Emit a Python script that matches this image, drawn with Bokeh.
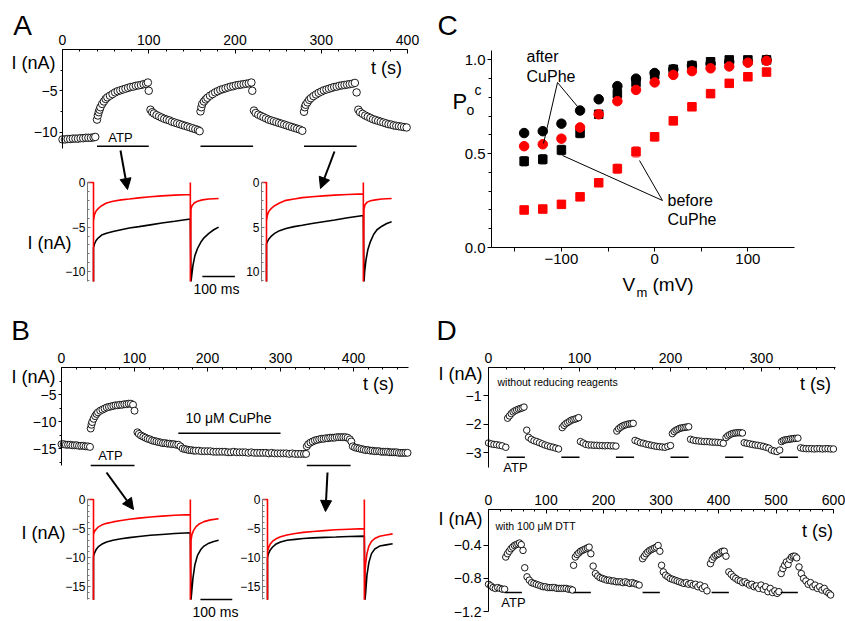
from bokeh.plotting import figure
from bokeh.models import Range1d, Label, Arrow, NormalHead, FixedTicker
from bokeh.layouts import row, column
from bokeh.embed import file_html
from bokeh.resources import INLINE

FONT = "Liberation Sans"

# ======================= DATA =======================
# ---- Panel A, time course (t in s, I in nA) ----
A_t = [0, 3, 6, 9, 12, 15, 18, 21, 24, 27, 30, 33, 36, 38,
       40, 41, 42, 43, 44, 46, 48, 50, 52, 55, 58, 61, 64, 67, 70, 73, 76, 79, 82, 85, 88, 91, 94, 97, 99, 100,
       102, 104, 106, 109, 112, 115, 118, 121, 124, 127, 130, 133, 136, 139, 142, 145, 148, 151, 154, 157, 159,
       160, 161, 162, 164, 166, 168, 171, 174, 177, 180, 183, 186, 189, 192, 195, 198, 201, 204, 207, 210, 213, 216, 219, 220,
       222, 224, 227, 230, 233, 236, 239, 242, 245, 248, 251, 254, 257, 260, 263, 266, 269, 272, 275, 278,
       280, 281, 282, 284, 286, 288, 291, 294, 297, 300, 303, 306, 309, 312, 315, 318, 321, 324, 327, 330, 333, 336, 339, 341,
       343, 345, 348, 351, 354, 357, 360, 363, 366, 369, 372, 375, 378, 381, 384, 387, 390, 393, 396, 399]
A_i = [-10.9, -10.9, -10.85, -10.85, -10.8, -10.8, -10.8, -10.75, -10.75, -10.7, -10.7, -10.7, -10.65, -10.6,
       -8.5, -8.0, -7.6, -7.3, -7.0, -6.6, -6.3, -6.0, -5.8, -5.6, -5.4, -5.2, -5.05, -4.95, -4.85, -4.75, -4.65, -4.55, -4.5, -4.4, -4.35, -4.3, -4.2, -4.15, -4.0, -5.0,
       -7.3, -7.6, -7.75, -7.95, -8.1, -8.25, -8.4, -8.5, -8.6, -8.75, -8.85, -8.95, -9.05, -9.15, -9.25, -9.35, -9.45, -9.55, -9.65, -9.75, -9.9,
       -7.5, -7.0, -6.6, -6.3, -6.05, -5.85, -5.6, -5.4, -5.2, -5.05, -4.9, -4.8, -4.7, -4.6, -4.5, -4.45, -4.35, -4.3, -4.25, -4.2, -4.15, -4.1, -4.0, -5.0,
       -7.4, -7.7, -7.9, -8.05, -8.2, -8.35, -8.5, -8.6, -8.7, -8.8, -8.9, -9.0, -9.1, -9.2, -9.3, -9.4, -9.5, -9.6, -9.7, -9.85,
       -7.55, -7.0, -6.7, -6.4, -6.1, -5.9, -5.65, -5.45, -5.25, -5.1, -4.95, -4.85, -4.75, -4.65, -4.55, -4.5, -4.4, -4.35, -4.3, -4.25, -4.2, -4.15, -4.05, -5.2,
       -7.3, -7.6, -7.8, -8.0, -8.15, -8.3, -8.45, -8.55, -8.65, -8.75, -8.85, -8.95, -9.05, -9.1, -9.2, -9.25, -9.3, -9.35, -9.4, -9.45]
A_atp_start = [40, 160, 280]
A_atp_end = [100, 221, 341]

# ---- Panel A, current traces (t in ms, I in nA; -11.1 = off-scale transient) ----
AL_red_t = [-18, 0, 0, 0, 3, 8, 15, 25, 40, 60, 85, 110, 140, 175, 210, 250, 298, 298, 298, 300, 303, 310, 320, 335, 355, 385]
AL_red_i = [0, 0, -11.1, -4.3, -3.6, -3.2, -2.9, -2.6, -2.3, -2.1, -1.95, -1.85, -1.72, -1.6, -1.5, -1.42, -1.35, 0, -11.1, -3.0, -2.6, -2.3, -2.1, -1.95, -1.85, -1.8]
AL_blk_t = [0, 0, 3, 8, 15, 25, 40, 60, 85, 110, 140, 175, 210, 250, 298, 300, 302, 306, 312, 320, 330, 340, 355, 370, 385]
AL_blk_i = [-11.1, -7.3, -6.9, -6.5, -6.2, -5.9, -5.7, -5.5, -5.3, -5.1, -4.95, -4.75, -4.55, -4.35, -4.1, -11.1, -10.5, -9.3, -8.2, -7.4, -6.7, -6.2, -5.7, -5.3, -5.0]
AR_red_t = [-15, 0, 0, 0, 3, 8, 15, 25, 40, 60, 85, 110, 140, 175, 210, 250, 298, 298, 298, 300, 303, 310, 320, 335, 355, 385]
AR_red_i = [0, 0, -11.1, -4.3, -3.6, -3.2, -2.9, -2.6, -2.3, -2.0, -1.85, -1.7, -1.6, -1.5, -1.42, -1.35, -1.28, 0, -11.1, -3.0, -2.5, -2.2, -2.05, -1.95, -1.85, -1.8]
AR_blk_t = [0, 0, 3, 8, 15, 25, 40, 60, 85, 110, 140, 175, 210, 250, 298, 300, 302, 306, 312, 320, 330, 340, 355, 370, 385]
AR_blk_i = [-11.1, -6.9, -6.6, -6.3, -6.0, -5.7, -5.4, -5.15, -4.95, -4.8, -4.6, -4.4, -4.2, -3.95, -3.7, -11.1, -10.0, -8.7, -7.5, -6.6, -5.8, -5.3, -4.9, -4.6, -4.4]

# ---- Panel B, time course ----
B_t = [0, 3, 6, 9, 12, 15, 18, 21, 24, 27, 30, 33, 36, 39,
       40, 41, 42, 44, 46, 48, 50, 53, 56, 59, 62, 65, 68, 71, 74, 77, 80, 83, 86, 89, 92, 95, 98, 100,
       104, 106, 109, 112, 115, 118, 121, 124, 127, 130, 133, 136, 139, 142, 145, 148, 151, 154, 157, 160,
       163, 166, 169, 172, 175, 178, 181, 184, 188, 192, 196, 200, 204, 208, 212, 216, 220, 224, 228, 232,
       236, 240, 244, 248, 252, 256, 260, 264, 268, 272, 276, 280, 284, 288, 292, 296, 300, 304, 308, 312,
       316, 320, 324, 328, 332, 335,
       336, 338, 341, 344, 347, 350, 353, 356, 359, 362, 365, 368, 371, 374, 377, 380, 383, 386, 389, 392, 395, 397,
       399, 402, 405, 408, 411, 414, 417, 420, 423, 426, 429, 432, 435, 438, 441, 444, 447, 450, 453, 456, 459, 462, 465, 468, 471, 474]
B_i = [-14.2, -14.2, -14.3, -14.3, -14.3, -14.4, -14.4, -14.4, -14.5, -14.5, -14.5, -14.6, -14.6, -14.7,
       -11.3, -10.6, -10.1, -9.5, -9.0, -8.6, -8.3, -8.0, -7.8, -7.6, -7.4, -7.3, -7.2, -7.1, -7.0, -7.0, -6.9, -6.9, -6.8, -6.8, -6.7, -6.7, -6.9, -8.0,
       -12.0, -12.3, -12.6, -12.8, -13.0, -13.2, -13.3, -13.5, -13.6, -13.7, -13.8, -13.9, -14.0, -14.0, -14.1, -14.1, -14.2, -14.2, -14.3, -14.3,
       -14.6, -15.0, -15.1, -15.2, -15.3, -15.3, -15.4, -15.4, -15.4, -15.5, -15.5, -15.5, -15.5, -15.6, -15.6, -15.6, -15.6, -15.6, -15.7, -15.7,
       -15.6, -15.7, -15.7, -15.7, -15.7, -15.8, -15.7, -15.8, -15.8, -15.8, -15.8, -15.8, -15.9, -15.8, -15.9, -15.9, -15.9, -15.9, -15.9, -16.0,
       -15.9, -16.0, -16.0, -16.0, -16.0, -16.0,
       -14.6, -14.2, -13.9, -13.7, -13.5, -13.4, -13.3, -13.2, -13.2, -13.1, -13.1, -13.0, -13.0, -13.0, -12.9, -12.9, -12.9, -12.9, -12.9, -13.0, -13.3, -13.7,
       -14.6, -14.8, -14.9, -15.0, -15.1, -15.2, -15.3, -15.3, -15.4, -15.4, -15.5, -15.5, -15.5, -15.6, -15.6, -15.6, -15.6, -15.7, -15.7, -15.7, -15.7, -15.8, -15.8, -15.8, -15.8, -15.8]
B_atp_start = [40, 336]
B_atp_end = [100, 396]
B_cuphe = [160, 300]

# ---- Panel B, current traces (-17.2 = off-scale transient) ----
BL_red_t = [-18, 0, 0, 0, 3, 8, 15, 25, 40, 60, 85, 110, 140, 175, 210, 250, 298, 298, 298, 300, 303, 308, 315, 325, 340, 360, 385]
BL_red_i = [0, 0, -17.2, -6.0, -5.5, -5.1, -4.7, -4.4, -4.1, -3.85, -3.6, -3.4, -3.2, -3.0, -2.85, -2.7, -2.6, 0, -17.2, -7.0, -6.0, -5.3, -4.7, -4.2, -3.8, -3.5, -3.3]
BL_blk_t = [0, 0, 3, 8, 15, 25, 40, 60, 85, 110, 140, 175, 210, 250, 298, 300, 302, 306, 312, 320, 330, 340, 355, 370, 385]
BL_blk_i = [-17.2, -9.8, -9.2, -8.6, -8.1, -7.7, -7.3, -7.0, -6.75, -6.55, -6.35, -6.15, -6.0, -5.85, -5.7, -17.2, -16.0, -13.5, -11.2, -9.6, -8.6, -8.0, -7.5, -7.2, -7.0]
BR_red_t = [-15, 0, 0, 0, 3, 8, 15, 25, 40, 60, 85, 110, 140, 175, 210, 250, 298, 298, 298, 300, 302, 306, 312, 320, 330, 345, 365, 385]
BR_red_i = [0, 0, -17.2, -9.0, -8.3, -7.7, -7.2, -6.8, -6.4, -6.1, -5.85, -5.65, -5.5, -5.35, -5.2, -5.1, -5.0, 0, -17.2, -12.5, -11.0, -9.3, -8.0, -7.2, -6.7, -6.3, -6.1, -5.9]
BR_blk_t = [0, 0, 3, 8, 15, 25, 40, 60, 85, 110, 140, 175, 210, 250, 298, 300, 302, 306, 312, 320, 330, 345, 365, 385]
BR_blk_i = [-17.2, -10.0, -9.3, -8.7, -8.2, -7.7, -7.3, -7.0, -6.85, -6.7, -6.6, -6.5, -6.45, -6.35, -6.3, -17.2, -16.0, -13.0, -10.8, -9.3, -8.5, -8.0, -7.8, -7.6]

# ---- Panel C, Po vs Vm ----
C_v = [-140, -120, -100, -80, -60, -40, -20, 0, 20, 40, 60, 80, 100, 120]
blk_after = [0.61, 0.62, 0.66, 0.73, 0.79, 0.86, 0.90, 0.93, 0.95, 0.97, 0.98, 0.99, 0.99, 1.0]
blk_after_err = [0.01, 0.01, 0.01, 0.01, 0.01, 0.01, 0.01, 0.008, 0.006, 0.005, 0.005, 0.005, 0.005, 0.005]
blk_before = [0.46, 0.47, 0.52, 0.61, 0.71, 0.82, 0.88, 0.92, 0.95, 0.97, 0.99, 1.0, 1.0, 1.0]
blk_before_err = [0.025, 0.025, 0.025, 0.025, 0.015, 0.015, 0.01, 0.01, 0.01, 0.01, 0.01, 0.008, 0.005, 0.005]
red_after = [0.54, 0.55, 0.58, 0.64, 0.71, 0.78, 0.84, 0.88, 0.92, 0.94, 0.955, 0.965, 0.985, 0.995]
red_after_err = [0.01, 0.01, 0.012, 0.015, 0.015, 0.015, 0.01, 0.01, 0.01, 0.008, 0.008, 0.008, 0.006, 0.006]
red_before = [0.20, 0.205, 0.23, 0.27, 0.345, 0.42, 0.51, 0.59, 0.675, 0.75, 0.82, 0.875, 0.91, 0.935]
red_before_err = [0.01, 0.01, 0.012, 0.015, 0.015, 0.025, 0.028, 0.022, 0.02, 0.018, 0.015, 0.012, 0.01, 0.01]

# ---- Panel D, time courses ----
D1_t = [0, 3, 6, 9, 12, 15, 19,
        21, 23, 25, 27, 29, 31, 33, 35, 37, 39,
        42, 44, 47, 50, 53, 56, 59, 62, 65, 68, 71, 74, 77,
        81, 83, 85, 87, 89, 91, 93, 95, 97, 99,
        101, 104, 107, 110, 113, 116, 119, 122, 125, 128, 131, 134, 137, 140,
        141, 143, 145, 147, 149, 151, 153, 155, 157, 159,
        161, 164, 167, 170, 173, 176, 179, 182, 185, 188, 191, 194, 197, 200,
        202, 204, 206, 208, 210, 212, 214, 216, 218, 220,
        222, 225, 228, 231, 234, 237, 240, 243, 246, 249, 252, 255, 258,
        261, 263, 265, 267, 269, 271, 273, 275, 277, 279,
        281, 284, 287, 290, 293, 296, 299, 302, 305, 308, 311, 314, 317, 320,
        322, 324, 326, 328, 330, 332, 334, 336, 338, 340,
        343, 346, 349, 352, 355, 358, 361, 364, 367, 370, 373, 376, 379]
D1_i = [-2.65, -2.68, -2.7, -2.71, -2.73, -2.75, -2.8,
        -1.78, -1.7, -1.62, -1.56, -1.52, -1.49, -1.46, -1.44, -1.42, -1.39,
        -2.2, -2.45, -2.52, -2.57, -2.6, -2.64, -2.68, -2.72, -2.75, -2.78, -2.8, -2.83, -2.86,
        -2.11, -2.03, -1.97, -1.93, -1.89, -1.85, -1.83, -1.81, -1.79, -1.76,
        -2.6, -2.65, -2.7, -2.72, -2.72, -2.73, -2.73, -2.74, -2.74, -2.75, -2.74, -2.75, -2.75, -2.76,
        -2.23, -2.15, -2.1, -2.06, -2.03, -2.01, -1.99, -1.98, -1.97, -1.96,
        -2.56, -2.6, -2.64, -2.66, -2.69, -2.71, -2.73, -2.75, -2.77, -2.78, -2.79, -2.8, -2.77, -2.74,
        -2.32, -2.25, -2.2, -2.17, -2.14, -2.12, -2.11, -2.1, -2.09, -2.08,
        -2.52, -2.55, -2.57, -2.58, -2.59, -2.6, -2.6, -2.61, -2.62, -2.62, -2.63, -2.64, -2.66,
        -2.46, -2.4, -2.36, -2.33, -2.31, -2.3, -2.29, -2.29, -2.29, -2.3,
        -2.64, -2.66, -2.68, -2.7, -2.72, -2.73, -2.75, -2.77, -2.8, -2.83, -2.9, -2.93, -2.95, -2.9,
        -2.6, -2.56, -2.54, -2.53, -2.52, -2.51, -2.5, -2.49, -2.49, -2.48,
        -2.82, -2.84, -2.85, -2.85, -2.85, -2.86, -2.85, -2.85, -2.86, -2.85, -2.85, -2.86, -2.86]
D1_atp_start = [20, 80, 140, 200, 260, 320]
D1_atp_end = [40, 100, 160, 220, 280, 340]

D2_t = [0, 4, 8, 12, 16, 20, 24, 28,
        30, 33, 36, 39, 42, 45, 48, 51, 54, 57, 60,
        63, 67, 71, 75, 79, 83, 87, 91, 95, 99, 103, 107, 111, 115, 119, 123, 127, 131, 135, 139, 143, 146,
        148, 151, 154, 157, 160, 163, 166, 169, 172, 175, 178,
        182, 186, 190, 194, 198, 202, 206, 210, 214, 218, 222, 226, 230, 234, 238, 242, 246, 250, 254, 258, 262,
        268, 271, 274, 277, 280, 283, 286, 289, 292, 295, 298,
        301, 304, 308, 312, 316, 320, 324, 328, 332, 336, 340, 344, 348, 352, 356, 360, 364, 368, 372, 376, 380,
        386, 389, 392, 395, 398, 401, 404, 407, 410, 413,
        418, 422, 426, 430, 434, 438, 442, 446, 450, 454, 458, 462, 466, 470, 474, 478, 482, 486, 490, 494, 498, 502, 505,
        509, 512, 515, 518, 521, 524, 527, 530, 533, 536,
        540, 544, 548, 552, 556, 560, 564, 568, 572, 576, 580, 584, 588, 592, 595]
D2_i = [-0.87, -0.89, -0.91, -0.92, -0.91, -0.92, -0.93, -0.93,
        -0.54, -0.5, -0.47, -0.44, -0.42, -0.4, -0.39, -0.38, -0.37, -0.39, -0.46,
        -0.67, -0.78, -0.82, -0.85, -0.86, -0.87, -0.88, -0.89, -0.9, -0.9, -0.91, -0.91, -0.91, -0.91, -0.92, -0.92, -0.92, -0.92, -0.92, -0.93, -0.93, -0.94,
        -0.64, -0.54, -0.51, -0.49, -0.47, -0.46, -0.45, -0.44, -0.43, -0.42, -0.5,
        -0.65, -0.74, -0.77, -0.79, -0.8, -0.81, -0.82, -0.82, -0.83, -0.83, -0.84, -0.84, -0.84, -0.85, -0.84, -0.85, -0.86, -0.85, -0.86, -0.87, -0.88,
        -0.56, -0.53, -0.5, -0.48, -0.46, -0.45, -0.44, -0.43, -0.42, -0.4, -0.47,
        -0.64, -0.72, -0.76, -0.78, -0.8, -0.81, -0.82, -0.83, -0.84, -0.85, -0.86, -0.85, -0.87, -0.86, -0.88, -0.87, -0.9, -0.88, -0.92, -0.9, -0.95,
        -0.62, -0.57, -0.54, -0.52, -0.51, -0.5, -0.48, -0.47, -0.47, -0.53,
        -0.72, -0.75, -0.78, -0.8, -0.82, -0.83, -0.85, -0.84, -0.86, -0.88, -0.87, -0.9, -0.89, -0.92, -0.88, -0.93, -0.9, -0.96, -0.92, -0.97, -0.95, -0.98, -0.96,
        -0.74, -0.68, -0.64, -0.6, -0.63, -0.57, -0.54, -0.53, -0.53, -0.55,
        -0.66, -0.74, -0.8, -0.83, -0.87, -0.85, -0.9, -0.88, -0.92, -0.9, -0.94, -0.92, -0.96, -0.98, -1.0]
D2_atp_start = [28, 148, 268, 388, 508]
D2_atp_end = [58, 178, 298, 418, 538]


# ======================= HELPERS =======================
def to_data(spec, px, py):
    (bx0, by0, bx1, by1), (x0, x1), (y0, y1) = spec
    x = x0 + (px - bx0) * (x1 - x0) / (bx1 - bx0)
    y = y1 - (py - by0) * (y1 - y0) / (by1 - by0)
    return x, y


def make(canvas, box, xr, yr, xloc=None):
    """canvas: page rect of the figure; box: page rect that maps to xr x yr.
    The frame fills the whole canvas; axes are pinned with fixed_location."""
    cx0, cy0, cx1, cy1 = canvas
    spec = (box, xr, yr)
    xs, ye = to_data(spec, cx0, cy0)
    xe, ys = to_data(spec, cx1, cy1)
    kw = dict(width=cx1 - cx0, height=cy1 - cy0,
              x_range=Range1d(xs, xe), y_range=Range1d(ys, ye),
              min_border_left=0, min_border_right=0,
              min_border_top=0, min_border_bottom=0,
              toolbar_location=None, output_backend="svg", title=None,
              background_fill_color="white", border_fill_color="white",
              outline_line_color=None)
    if xloc is None:
        kw["x_axis_type"] = None
    else:
        kw["x_axis_location"] = xloc
    p = figure(**kw)
    p.xgrid.visible = False
    p.ygrid.visible = False
    return p, spec


def style(ax, loc, bounds, ticks, minor, size, tin=0, tout=4, min_in=0, min_out=2,
          standoff=2, color="black", overrides=None):
    ax.fixed_location = loc
    ax.bounds = bounds
    ax.ticker = FixedTicker(ticks=ticks, minor_ticks=minor)
    ax.major_label_text_font = FONT
    ax.major_label_text_font_size = size
    ax.major_label_text_color = "black"
    ax.major_tick_in = tin
    ax.major_tick_out = tout
    ax.minor_tick_in = min_in
    ax.minor_tick_out = min_out
    ax.major_label_standoff = standoff
    ax.axis_line_color = color
    ax.major_tick_line_color = color
    ax.minor_tick_line_color = color
    ax.axis_line_width = 1
    if overrides:
        ax.major_label_overrides = overrides


def label(p, spec, px, py, text, size, align="center", baseline="middle"):
    x, y = to_data(spec, px, py)
    p.add_layout(Label(x=x, y=y, text=text, text_font=FONT, text_font_size=size,
                       text_align=align, text_baseline=baseline, text_color="black"))


def arrow(p, spec, a, b):
    x0, y0 = to_data(spec, *a)
    x1, y1 = to_data(spec, *b)
    p.add_layout(Arrow(end=NormalHead(size=11, fill_color="black", line_color="black", line_width=1),
                       x_start=x0, y_start=y0, x_end=x1, y_end=y1,
                       line_width=2, line_color="black"))


def hbar(p, starts, ends, yv, width=1.5):
    p.segment(x0=starts, y0=[yv] * len(starts), x1=ends, y1=[yv] * len(starts),
              line_color="black", line_width=width)


def circles(p, t, i, size=7):
    p.scatter(t, i, marker="circle", size=size, fill_color="white",
              line_color="black", line_width=0.9)


def traces(p, red_t, red_i, blk_t, blk_i):
    p.line(blk_t, blk_i, line_color="black", line_width=1.6)
    p.line(red_t, red_i, line_color="#ff0000", line_width=1.6)


TOP_H = 312    # page y where the lower half (panels B and D) starts
SPLIT_B = 239  # page x where the right trace of panel B starts
TRACE_TICK = "12px"

# ======================= PANEL A =======================
A1, sA1 = make((0, 0, 430, 149), (62, 49, 407, 148), (0, 400), (-12, 0), xloc="above")
style(A1.xaxis[0], 0, (0, 400), [0, 100, 200, 300, 400], list(range(0, 401, 20)), "14px",
      tin=4, tout=0, min_in=2, min_out=0, standoff=5)
style(A1.yaxis[0], 0, (-12, 0), [-5, -10], [-2.5, -7.5], "14px", tout=3, min_out=2, standoff=2)
circles(A1, A_t, A_i, 7.5)
hbar(A1, A_atp_start, A_atp_end, to_data(sA1, 0, 145.7)[1])
label(A1, sA1, 22, 25, "A", "28px")
label(A1, sA1, 33, 62, "I (nA)", "18px")
label(A1, sA1, 386, 67, "t (s)", "18px")
label(A1, sA1, 120, 137, "ATP", "13px")

A2, sA2 = make((0, 149, 240, TOP_H), (93, 182, 223, 281), (0, 400), (-11.1, 0))
style(A2.yaxis[0], -18.46, (-11.1, 0), [0, -5, -10], list(range(-11, 1)), TRACE_TICK, tin=3, tout=0,
      min_in=2, min_out=0, standoff=2, color="#777777")
traces(A2, AL_red_t, AL_red_i, AL_blk_t, AL_blk_i)
hbar(A2, [335], [435], to_data(sA2, 0, 276)[1])
label(A2, sA2, 49, 242, "I (nA)", "18px")
label(A2, sA2, 216, 288, "100 ms", "14px")
arrow(A2, sA2, (120, 150), (127, 189))

A3, sA3 = make((240, 149, 430, TOP_H), (266, 182, 396, 281), (0, 400), (-11.1, 0))
style(A3.yaxis[0], -15.4, (-11.1, 0), [0, -5, -10], list(range(-11, 1)), TRACE_TICK, tin=3, tout=0,
      min_in=2, min_out=0, standoff=2, color="#777777",
      overrides={0: "0", -5: "5", -10: "10"})
traces(A3, AR_red_t, AR_red_i, AR_blk_t, AR_blk_i)
arrow(A3, sA3, (334, 151), (320, 188))

# ======================= PANEL C =======================
C, sC = make((430, 0, 845, TOP_H), (491, 50, 794, 247), (-175, 150), (0, 1.05), xloc="below")
style(C.xaxis[0], 0, (-175, 150), [-100, 0, 100], [-150, -50, 50], "15px",
      tout=4, min_out=4, standoff=2)
style(C.yaxis[0], -175, (0, 1.05), [0, 0.5, 1], [0.1, 0.2, 0.3, 0.4, 0.6, 0.7, 0.8, 0.9], "15px",
      tout=4, min_out=3, standoff=2, overrides={0: "0.0", 0.5: "0.5", 1: "1.0"})


def errbars(vals, errs, color):
    lo = [v - e for v, e in zip(vals, errs)]
    hi = [v + e for v, e in zip(vals, errs)]
    C.segment(x0=C_v, y0=lo, x1=C_v, y1=hi, line_color=color, line_width=1.2)
    capw = 3.5
    xl = [v - capw for v in C_v]
    xr_ = [v + capw for v in C_v]
    C.segment(x0=xl, y0=lo, x1=xr_, y1=lo, line_color=color, line_width=1.2)
    C.segment(x0=xl, y0=hi, x1=xr_, y1=hi, line_color=color, line_width=1.2)


errbars(blk_before, blk_before_err, "#444444")
errbars(red_before, red_before_err, "#ff7070")
errbars(blk_after, blk_after_err, "#444444")
errbars(red_after, red_after_err, "#ff7070")
C.scatter(C_v, blk_before, marker="square", size=8.5, color="black")
C.scatter(C_v, red_before, marker="square", size=8.5, color="#ff0000")
C.scatter(C_v, blk_after, marker="circle", size=9.5, color="black")
C.scatter(C_v, red_after, marker="circle", size=9.5, color="#ff0000")

# leader lines of the annotations
for a, b in [((557, 82), (543, 143)), ((557, 82), (577, 106)),
             ((662, 200), (562, 155)), ((662, 200), (639, 160))]:
    x0, y0 = to_data(sC, *a)
    x1, y1 = to_data(sC, *b)
    C.segment(x0=[x0], y0=[y0], x1=[x1], y1=[y1], line_color="black", line_width=1)

label(C, sC, 447, 25, "C", "28px")
label(C, sC, 526, 56, "after", "16px", align="left")
label(C, sC, 526, 76, "CuPhe", "16px", align="left")
label(C, sC, 667, 200, "before", "16px", align="left")
label(C, sC, 667, 219, "CuPhe", "16px", align="left")
label(C, sC, 452, 101, "P", "22px", align="left")
label(C, sC, 466, 109, "o", "14px", align="left")
label(C, sC, 474, 89, "c", "14px", align="left")
label(C, sC, 622, 284, "V", "19px", align="left")
label(C, sC, 636, 292, "m", "13px", align="left")
label(C, sC, 652, 284, "(mV)", "19px", align="left")

# ======================= PANEL B =======================
B1, sB1 = make((0, TOP_H, 430, 468), (61, 367, 408, 466), (0, 475.3), (-18.33, 0), xloc="above")
style(B1.xaxis[0], 0, (0, 475.3), [0, 100, 200, 300, 400], list(range(0, 476, 20)), "14px",
      tin=4, tout=0, min_in=2, min_out=0, standoff=5)
style(B1.yaxis[0], 0, (-18.2, 0), [-5, -10, -15], [-2.5, -7.5, -12.5, -17.5], "14px",
      tout=3, min_out=2, standoff=2)
circles(B1, B_t, B_i, 7)
hbar(B1, B_atp_start, B_atp_end, to_data(sB1, 0, 465)[1])
hbar(B1, [B_cuphe[0]], [B_cuphe[1]], to_data(sB1, 0, 432.7)[1])
label(B1, sB1, 20, 330, "B", "28px")
label(B1, sB1, 33, 376, "I (nA)", "18px")
label(B1, sB1, 378, 383, "t (s)", "18px")
label(B1, sB1, 110, 455, "ATP", "13px")
label(B1, sB1, 228, 417, "10 \u03bcM CuPhe", "14px")

B2, sB2 = make((0, 468, SPLIT_B, 621), (93, 499, 223, 600), (0, 400), (-17.35, 0))
style(B2.yaxis[0], -18.46, (-17.2, 0), [0, -5, -10, -15], list(range(-17, 1)), TRACE_TICK, tin=3, tout=0,
      min_in=2, min_out=0, standoff=2, color="#777777")
traces(B2, BL_red_t, BL_red_i, BL_blk_t, BL_blk_i)
hbar(B2, [329], [427], to_data(sB2, 0, 599)[1])
label(B2, sB2, 43, 532, "I (nA)", "18px")
label(B2, sB2, 215, 611, "100 ms", "14px")
arrow(B2, sB2, (106, 472), (133, 509))

B3, sB3 = make((SPLIT_B, 468, 430, 621), (267, 499, 397, 600), (0, 400), (-17.35, 0))
style(B3.yaxis[0], -15.4, (-17.2, 0), [0, -5, -10, -15], list(range(-17, 1)), TRACE_TICK, tin=3, tout=0,
      min_in=2, min_out=0, standoff=2, color="#777777")
traces(B3, BR_red_t, BR_red_i, BR_blk_t, BR_blk_i)
arrow(B3, sB3, (327, 472), (325, 511))

# ======================= PANEL D =======================
D1, sD1 = make((430, TOP_H, 845, 478), (488, 367, 835, 467), (0, 381.3), (-3.51, 0), xloc="above")
style(D1.xaxis[0], 0, (0, 381.3), [0, 100, 200, 300], list(range(0, 381, 20)), "14px",
      tin=4, tout=0, min_in=2, min_out=0, standoff=5)
style(D1.yaxis[0], 0, (-3.5, 0), [-1, -2, -3], [], "14px", tout=5, standoff=2)
circles(D1, D1_t, D1_i, 6.5)
hbar(D1, D1_atp_start, D1_atp_end, to_data(sD1, 0, 456.7)[1])
label(D1, sD1, 446, 330, "D", "28px")
label(D1, sD1, 460, 373, "I (nA)", "18px")
label(D1, sD1, 497, 381, "without reducing reagents", "10.5px", align="left")
label(D1, sD1, 815, 383, "t (s)", "18px")
label(D1, sD1, 515, 467, "ATP", "13px")

D2, sD2 = make((430, 478, 845, 621), (488, 509, 833, 611), (0, 600), (-1.2, 0.036), xloc="above")
style(D2.xaxis[0], 0.036, (0, 600), [0, 100, 200, 300, 400, 500, 600], list(range(0, 601, 20)), "14px",
      tin=4, tout=0, min_in=2, min_out=0, standoff=5)
style(D2.yaxis[0], 0, (-1.2, 0.036), [-0.4, -0.8, -1.2], [], "14px", tout=5, standoff=2)
circles(D2, D2_t, D2_i, 6.5)
hbar(D2, D2_atp_start, D2_atp_end, to_data(sD2, 0, 592)[1])
label(D2, sD2, 460, 518, "I (nA)", "18px")
label(D2, sD2, 495, 525, "with 100 \u03bcM DTT", "10.5px", align="left")
label(D2, sD2, 817, 530, "t (s)", "18px")
label(D2, sD2, 513, 602, "ATP", "13px")

# ======================= LAYOUT =======================
colA = column(A1, row(A2, A3))
colB = column(B1, row(B2, B3))
colD = column(D1, D2)
layout = column(row(colA, C), row(colB, colD))

open("out.html", "w").write(file_html(layout, INLINE))
